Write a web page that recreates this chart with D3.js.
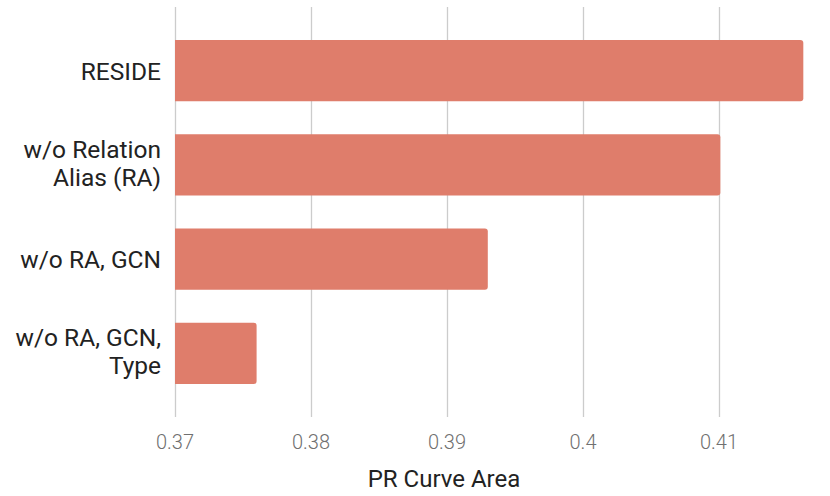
<!DOCTYPE html>
<html>
<head>
<meta charset="utf-8">
<script src="https://cdn.jsdelivr.net/npm/d3@7"></script>
<style>
    body { margin: 0; background: #fff; }
    svg { display: block; font-family: Roboto, "Noto Sans", sans-serif; }
</style>
</head>
<body>
<svg width="830" height="496"></svg>
<script>
"use strict"

const categories = ["RESIDE", "w/o Relation Alias (RA)", "w/o RA, GCN", "w/o RA, GCN, Type"]
const labelLines = [["RESIDE"], ["w/o Relation", "Alias (RA)"], ["w/o RA, GCN"], ["w/o RA, GCN,", "Type"]]
const values = [0.4162, 0.4101, 0.393, 0.3760]
const ticks = [0.37, 0.38, 0.39, 0.4, 0.41]
const axisTitle = "PR Curve Area"

const BAR_COLOR = "#df7d6b"

const svg = d3.select("svg")

const x = d3.scaleLinear().domain([0.37, 0.42]).range([175, 855])
const y = d3.scaleBand().domain(categories).range([7, 417]).paddingInner(0.35).paddingOuter(0.35)

// gridlines
svg.append("g")
    .selectAll("line")
    .data(ticks)
    .join("line")
    .attr("x1", (d) => Math.round(x(d)) + 0.5)
    .attr("x2", (d) => Math.round(x(d)) + 0.5)
    .attr("y1", 7)
    .attr("y2", 417)
    .attr("stroke", "#cccccc")
    .attr("stroke-width", 1.3)

// bars, rounded on the right end only
const r = 3
svg.append("g")
    .selectAll("path")
    .data(categories)
    .join("path")
    .attr("fill", BAR_COLOR)
    .attr("d", (d, i) => {
        const x0 = x(0.37), x1 = x(values[i])
        const y0 = y(d), h = y.bandwidth()
        return `M${x0},${y0}H${x1 - r}Q${x1},${y0} ${x1},${y0 + r}V${y0 + h - r}Q${x1},${y0 + h} ${x1 - r},${y0 + h}H${x0}Z`
    })

// tick labels
svg.append("g")
    .selectAll("text")
    .data(ticks)
    .join("text")
    .attr("x", (d) => x(d))
    .attr("y", 449)
    .attr("text-anchor", "middle")
    .attr("font-size", "20px")
    .attr("font-weight", 300)
    .attr("fill", "#707070")
    .text((d) => d3.format("")(d))

// category labels
const lineHeight = 28
svg.append("g")
    .selectAll("text")
    .data(categories)
    .join("text")
    .attr("x", 161)
    .attr("text-anchor", "end")
    .attr("font-size", "24.5px")
    .attr("fill", "#222222")
    .each(function(d, i) {
        const lines = labelLines[i]
        const cy = y(d) + y.bandwidth() / 2
        const first = cy - ((lines.length - 1) * lineHeight) / 2 + 9 - 2 * (lines.length - 1)
        d3.select(this)
            .selectAll("tspan")
            .data(lines)
            .join("tspan")
            .attr("x", 161)
            .attr("y", (t, j) => first + j * lineHeight)
            .text((t) => t)
    })

// axis title
svg.append("text")
    .attr("x", 444)
    .attr("y", 487)
    .attr("text-anchor", "middle")
    .attr("font-size", "24px")
    .attr("fill", "#222222")
    .text(axisTitle)
</script>
</body>
</html>
